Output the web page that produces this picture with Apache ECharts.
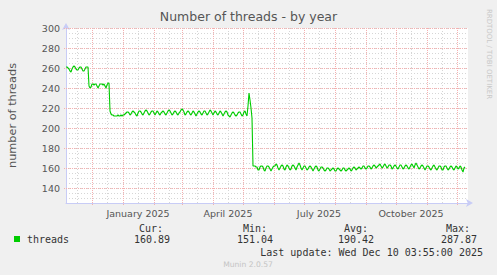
<!DOCTYPE html>
<html>
<head>
<meta charset="utf-8">
<script src="https://cdn.jsdelivr.net/npm/echarts@6/dist/echarts.min.js"></script>
<style>
html,body{margin:0;padding:0;background:#f0f0f0;}
#chart{width:497px;height:275px;}
</style>
</head>
<body>
<div id="chart"></div>
<script>
// ---- data (daily averages, one per day starting 2024-11-05) ----
const startYear = 2024, startMonth = 10, startDay = 5;
const segA = [261,261,260,259,257,256,259,261,262,261,
              259,258,258,260,261,261,259,257,257,259,
              261,261,261];
const segB = [242,240,241,244,244,243,244,244,242,240,
              242,244,244,244,243,244,242,240,243,245,
              245];
const segC = [217,214,213,213,212,212,212,212,213,212,
              212,213,212,213,213,214,215,216,216,215,
              213,214,216,217,216,215,213,212,215,217,
              217,216,214,213,215,217,218,217,215,213,
              214,216,217,217,215,213,215,217,216,214,
              213,215,216,217,216,214,213,215,217,218,
              217,215,213,214,216,217,216,214,213,215,
              216,218,219,218,216,213,214,216,217,216,
              214,213,215,217,216,214,212,214,216,217,
              216,214,213,215,217,217,215,213,214,216,
              218,217,215,213,215,217,216,214,213,215,
              217,216,214,212,214,216,217,216,213,212,
              211,213,215,216,215,213,212,213,215,216,
              216,214,212,213,216,217,214,212];
const segSpike = [222,235,228,220,210,162];
const segD = [162,162,161,161,158,158,161,162,162,161,
              158,157,160,162,162,161,159,157,159,161,
              162,162,164,163,160,158,160,162,163,162,
              159,158,161,163,162,160,158,159,162,163,
              162,160,158,161,163,165,163,160,158,160,
              162,162,160,158,159,161,162,161,159,157,
              159,161,162,161,158,157,159,161,161,160,
              158,157,158,160,160,159,157,158,159,160,
              159,157,157,159,160,159,158,157,158,160,
              160,158,157,158,159,160,159,157,158,160,
              161,160,158,159,160,161,160,159,160,162,
              162,160,159,160,162,162,161,159,160,162,
              163,162,160,161,162,163,164,162,160,161,
              163,164,162,160,161,163,163,162,159,160,
              162,163,162,160,159,161,163,163,161,159,
              160,162,163,162,160,159,161,163,164,162,
              160,163,165,163,161,159,160,162,163,162,
              160,158,160,162,162,161,159,158,160,162,
              163,161,159,158,160,162,162,161,158,158,
              161,162,162,160,158,159,161,162,161,159,
              158,160,162,161,159,160,162,161,158,156,
              160,161];
const threads = [].concat(segA, segB, segC, segSpike, segD);

const monthNames = ['January','February','March','April','May','June','July',
                    'August','September','October','November','December'];
const yTickLabels = [140,160,180,200,220,240,260,280,300];
const statHeaders = ['Cur:','Min:','Avg:','Max:'];
const statValues = ['160.89','151.04','190.42','287.87'];
const seriesName = 'threads';
const lastUpdate = 'Last update: Wed Dec 10 03:55:00 2025';

// ---- build ----
const seriesData = threads.map((v, i) => [new Date(startYear, startMonth, startDay + i).getTime(), v]);
const xMin = new Date(startYear, startMonth, startDay).getTime();
const xMax = new Date(startYear, startMonth, startDay + 402).getTime();
const yMin = 125, yMax = 300;

// month boundaries (major grid) and mid-month (minor grid) inside the range
const monthStarts = [], midMonths = [];
for (let k = 0; k < 15; k++) {
  const s = new Date(startYear, startMonth + k, 1).getTime();
  const m = new Date(startYear, startMonth + k, 16).getTime();
  if (s > xMin && s < xMax) monthStarts.push(s);
  if (m > xMin && m < xMax) midMonths.push(m);
}

const chart = echarts.init(document.getElementById('chart'), null, {renderer: 'svg', width: 497, height: 275});
const sans = 'DejaVu Sans';
const mono = 'DejaVu Sans Mono';
const RED = '#f4b0b0';
const GRAY = '#d6d6d6';
const AXIS = '#c8ccf6';

const statRightH = [163, 267, 368, 470];
const statRightV = [170, 273, 374, 477];
const graphics = [];
statHeaders.forEach((h, i) => {
  graphics.push({type: 'text', x: statRightH[i], y: 228, style: {text: h, fill: '#333', font: '10px "' + mono + '"', textAlign: 'right', textVerticalAlign: 'middle'}});
  graphics.push({type: 'text', x: statRightV[i], y: 239.5, style: {text: statValues[i], fill: '#333', font: '10px "' + mono + '"', textAlign: 'right', textVerticalAlign: 'middle'}});
});
graphics.push({type: 'text', x: 483, y: 252, style: {text: lastUpdate, fill: '#333', font: '10px "' + mono + '"', textAlign: 'right', textVerticalAlign: 'middle'}});
graphics.push({type: 'text', x: 248, y: 264, style: {text: 'Munin 2.0.57', fill: '#c4c4c4', font: '7.6px "' + sans + '"', textAlign: 'center', textVerticalAlign: 'middle'}});
graphics.push({type: 'text', x: 489, y: 54, rotation: -Math.PI / 2, style: {text: 'RRDTOOL / TOBI OETIKER', fill: '#c8c8c8', font: '7px "' + sans + '"', textAlign: 'center', textVerticalAlign: 'middle'}});

chart.setOption({
  animation: false,
  backgroundColor: '#f0f0f0',
  title: {
    text: 'Number of threads - by year',
    left: 'center', top: 10, padding: 0,
    textStyle: {fontFamily: sans, fontSize: 12.5, fontWeight: 'normal', color: '#555'}
  },
  legend: {
    data: [seriesName], left: 14, top: 234, padding: 0,
    icon: 'rect', itemWidth: 6, itemHeight: 6,
    textStyle: {fontFamily: mono, fontSize: 10, color: '#333', padding: [0, 0, 0, 2]}
  },
  grid: {left: 66, right: 29, top: 28, bottom: 72, show: true, backgroundColor: '#ffffff', borderWidth: 0, outerBoundsMode: 'none'},
  xAxis: {
    type: 'time', min: xMin, max: xMax,
    splitNumber: 10,
    axisLine: {show: true, lineStyle: {color: AXIS, width: 1}, symbol: ['none', 'arrow'], symbolSize: [6, 7], symbolOffset: [0, 5]},
    axisTick: {show: false},
    splitLine: {show: false},
    axisLabel: {
      fontFamily: sans, fontSize: 9.5, color: '#555', margin: 5,
      padding: [0, 0, 0, 30], align: 'center', hideOverlap: false,
      formatter: function (v) {
        const d = new Date(v);
        if (d.getDate() === 1 && d.getHours() === 0 && d.getMonth() % 3 === 0) {
          return monthNames[d.getMonth()] + ' ' + d.getFullYear();
        }
        return '';
      }
    }
  },
  yAxis: {
    type: 'value', min: yMin, max: yMax, interval: 5,
    axisLine: {show: true, lineStyle: {color: AXIS, width: 1}, symbol: ['none', 'arrow'], symbolSize: [6, 7], symbolOffset: [0, 5]},
    axisTick: {show: false},
    splitLine: {show: true, lineStyle: {color: GRAY, type: [1, 2], width: 1}},
    axisLabel: {
      fontFamily: sans, fontSize: 9.5, color: '#555', margin: 6,
      formatter: function (v) { return yTickLabels.indexOf(v) >= 0 ? String(v) : ''; }
    },
    name: 'number of threads', nameLocation: 'middle', nameGap: 48, nameRotate: 90,
    nameTextStyle: {fontFamily: sans, fontSize: 11.3, color: '#555'}
  },
  graphic: graphics,
  series: [{
    name: seriesName, type: 'line', data: seriesData, z: 5,
    showSymbol: false, symbol: 'none',
    itemStyle: {color: '#00cc00'},
    lineStyle: {color: '#00cc00', width: 1.1}
  }]
});

// grid lines placed through the chart's own scales
const yTop = chart.convertToPixel({yAxisIndex: 0}, yMax);
const yBottom = chart.convertToPixel({yAxisIndex: 0}, yMin);
const xLeft = chart.convertToPixel({xAxisIndex: 0}, xMin);
const xRight = chart.convertToPixel({xAxisIndex: 0}, xMax);
const gridLines = [];
midMonths.forEach(t => {
  const x = Math.round(chart.convertToPixel({xAxisIndex: 0}, t)) + 0.5;
  gridLines.push({type: 'line', z: 1, silent: true, shape: {x1: x, y1: yTop, x2: x, y2: yBottom + 2},
    style: {stroke: GRAY, lineWidth: 1, lineDash: [1, 2]}});
});
monthStarts.forEach(t => {
  const x = Math.round(chart.convertToPixel({xAxisIndex: 0}, t)) + 0.5;
  gridLines.push({type: 'line', z: 2, silent: true, shape: {x1: x, y1: yTop, x2: x, y2: yBottom + 3},
    style: {stroke: RED, lineWidth: 1, lineDash: [1, 1]}});
});
yTickLabels.forEach(v => {
  const y = Math.round(chart.convertToPixel({yAxisIndex: 0}, v)) + 0.5;
  gridLines.push({type: 'line', z: 2, silent: true, shape: {x1: xLeft - 2, y1: y, x2: xRight, y2: y},
    style: {stroke: RED, lineWidth: 1, lineDash: [1, 1]}});
});
chart.setOption({graphic: graphics.concat(gridLines)});
</script>
</body>
</html>
